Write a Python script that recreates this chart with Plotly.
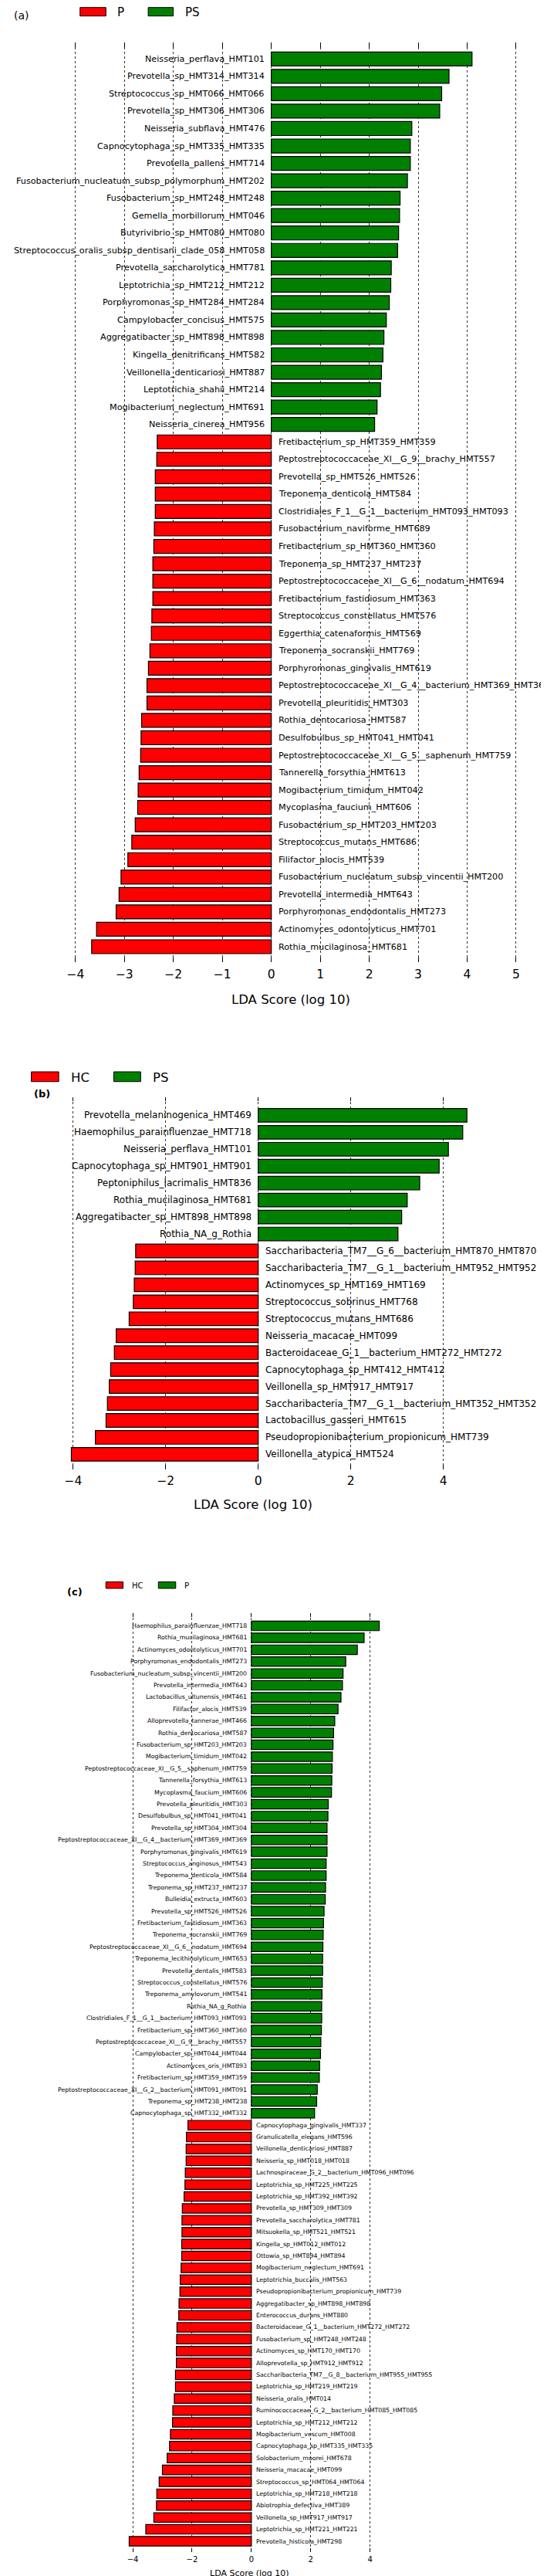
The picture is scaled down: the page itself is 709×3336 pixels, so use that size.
import plotly.graph_objects as go

FONT = "DejaVu Sans"
W, H = 709, 3336
RED = "#ff0000"
GREEN = "#008000"

# ---- panel (a): P vs PS ----
a_ps_names = [
    "Neisseria_perflava_HMT101", "Prevotella_sp_HMT314_HMT314", "Streptococcus_sp_HMT066_HMT066",
    "Prevotella_sp_HMT306_HMT306", "Neisseria_subflava_HMT476", "Capnocytophaga_sp_HMT335_HMT335",
    "Prevotella_pallens_HMT714", "Fusobacterium_nucleatum_subsp_polymorphum_HMT202",
    "Fusobacterium_sp_HMT248_HMT248", "Gemella_morbillorum_HMT046", "Butyrivibrio_sp_HMT080_HMT080",
    "Streptococcus_oralis_subsp_dentisani_clade_058_HMT058", "Prevotella_saccharolytica_HMT781",
    "Leptotrichia_sp_HMT212_HMT212", "Porphyromonas_sp_HMT284_HMT284", "Campylobacter_concisus_HMT575",
    "Aggregatibacter_sp_HMT898_HMT898", "Kingella_denitrificans_HMT582", "Veillonella_denticariosi_HMT887",
    "Leptotrichia_shahii_HMT214", "Mogibacterium_neglectum_HMT691", "Neisseria_cinerea_HMT956",
]
a_ps_lda = [4.10, 3.63, 3.48, 3.44, 2.87, 2.84, 2.84, 2.78, 2.63, 2.62, 2.60, 2.58, 2.45, 2.44,
            2.41, 2.35, 2.30, 2.28, 2.25, 2.23, 2.16, 2.11]
a_p_names = [
    "Fretibacterium_sp_HMT359_HMT359", "Peptostreptococcaceae_XI__G_9__brachy_HMT557",
    "Prevotella_sp_HMT526_HMT526", "Treponema_denticola_HMT584",
    "Clostridiales_F_1__G_1__bacterium_HMT093_HMT093", "Fusobacterium_naviforme_HMT689",
    "Fretibacterium_sp_HMT360_HMT360", "Treponema_sp_HMT237_HMT237",
    "Peptostreptococcaceae_XI__G_6__nodatum_HMT694", "Fretibacterium_fastidiosum_HMT363",
    "Streptococcus_constellatus_HMT576", "Eggerthia_catenaformis_HMT569", "Treponema_socranskii_HMT769",
    "Porphyromonas_gingivalis_HMT619", "Peptostreptococcaceae_XI__G_4__bacterium_HMT369_HMT369",
    "Prevotella_pleuritidis_HMT303", "Rothia_dentocariosa_HMT587", "Desulfobulbus_sp_HMT041_HMT041",
    "Peptostreptococcaceae_XI__G_5__saphenum_HMT759", "Tannerella_forsythia_HMT613",
    "Mogibacterium_timidum_HMT042", "Mycoplasma_faucium_HMT606", "Fusobacterium_sp_HMT203_HMT203",
    "Streptococcus_mutans_HMT686", "Filifactor_alocis_HMT539",
    "Fusobacterium_nucleatum_subsp_vincentii_HMT200", "Prevotella_intermedia_HMT643",
    "Porphyromonas_endodontalis_HMT273", "Actinomyces_odontolyticus_HMT701", "Rothia_mucilaginosa_HMT681",
]
a_p_lda = [-2.33, -2.34, -2.37, -2.37, -2.37, -2.39, -2.40, -2.42, -2.42, -2.42, -2.44, -2.45, -2.48,
           -2.51, -2.54, -2.54, -2.65, -2.66, -2.67, -2.70, -2.72, -2.73, -2.78, -2.85, -2.93, -3.07,
           -3.11, -3.17, -3.57, -3.67]
a_ticks = [-4, -3, -2, -1, 0, 1, 2, 3, 4, 5]

# ---- panel (b): HC vs PS ----
b_ps_names = [
    "Prevotella_melaninogenica_HMT469", "Haemophilus_parainfluenzae_HMT718", "Neisseria_perflava_HMT101",
    "Capnocytophaga_sp_HMT901_HMT901", "Peptoniphilus_lacrimalis_HMT836", "Rothia_mucilaginosa_HMT681",
    "Aggregatibacter_sp_HMT898_HMT898", "Rothia_NA_g_Rothia",
]
b_ps_lda = [4.51, 4.42, 4.11, 3.91, 3.49, 3.22, 3.10, 3.02]
b_hc_names = [
    "Saccharibacteria_TM7__G_6__bacterium_HMT870_HMT870",
    "Saccharibacteria_TM7__G_1__bacterium_HMT952_HMT952", "Actinomyces_sp_HMT169_HMT169",
    "Streptococcus_sobrinus_HMT768", "Streptococcus_mutans_HMT686", "Neisseria_macacae_HMT099",
    "Bacteroidaceae_G_1__bacterium_HMT272_HMT272", "Capnocytophaga_sp_HMT412_HMT412",
    "Veillonella_sp_HMT917_HMT917", "Saccharibacteria_TM7__G_1__bacterium_HMT352_HMT352",
    "Lactobacillus_gasseri_HMT615", "Pseudopropionibacterium_propionicum_HMT739",
    "Veillonella_atypica_HMT524",
]
b_hc_lda = [-2.65, -2.66, -2.68, -2.70, -2.79, -3.07, -3.11, -3.19, -3.22, -3.26, -3.29, -3.52, -4.04]
b_ticks = [-4, -2, 0, 2, 4]

# ---- panel (c): HC vs P ----
c_p_names = [
    "Haemophilus_parainfluenzae_HMT718", "Rothia_mucilaginosa_HMT681", "Actinomyces_odontolyticus_HMT701",
    "Porphyromonas_endodontalis_HMT273", "Fusobacterium_nucleatum_subsp_vincentii_HMT200",
    "Prevotella_intermedia_HMT643", "Lactobacillus_ultunensis_HMT461", "Filifactor_alocis_HMT539",
    "Alloprevotella_tannerae_HMT466", "Rothia_dentocariosa_HMT587", "Fusobacterium_sp_HMT203_HMT203",
    "Mogibacterium_timidum_HMT042", "Peptostreptococcaceae_XI__G_5__saphenum_HMT759",
    "Tannerella_forsythia_HMT613", "Mycoplasma_faucium_HMT606", "Prevotella_pleuritidis_HMT303",
    "Desulfobulbus_sp_HMT041_HMT041", "Prevotella_sp_HMT304_HMT304",
    "Peptostreptococcaceae_XI__G_4__bacterium_HMT369_HMT369", "Porphyromonas_gingivalis_HMT619",
    "Streptococcus_anginosus_HMT543", "Treponema_denticola_HMT584", "Treponema_sp_HMT237_HMT237",
    "Bulleidia_extructa_HMT603", "Prevotella_sp_HMT526_HMT526", "Fretibacterium_fastidiosum_HMT363",
    "Treponema_socranskii_HMT769", "Peptostreptococcaceae_XI__G_6__nodatum_HMT694",
    "Treponema_lecithinolyticum_HMT653", "Prevotella_dentalis_HMT583", "Streptococcus_constellatus_HMT576",
    "Treponema_amylovorum_HMT541", "Rothia_NA_g_Rothia", "Clostridiales_F_1__G_1__bacterium_HMT093_HMT093",
    "Fretibacterium_sp_HMT360_HMT360", "Peptostreptococcaceae_XI__G_9__brachy_HMT557",
    "Campylobacter_sp_HMT044_HMT044", "Actinomyces_oris_HMT893", "Fretibacterium_sp_HMT359_HMT359",
    "Peptostreptococcaceae_XI__G_2__bacterium_HMT091_HMT091", "Treponema_sp_HMT238_HMT238",
    "Capnocytophaga_sp_HMT332_HMT332",
]
c_p_lda = [4.31, 3.80, 3.57, 3.18, 3.09, 3.07, 3.02, 2.92, 2.81, 2.77, 2.75, 2.73, 2.72, 2.71, 2.70,
           2.59, 2.58, 2.55, 2.55, 2.55, 2.52, 2.52, 2.50, 2.49, 2.45, 2.43, 2.42, 2.41, 2.40, 2.40,
           2.39, 2.38, 2.37, 2.37, 2.36, 2.34, 2.33, 2.30, 2.29, 2.22, 2.20, 2.13]
c_hc_names = [
    "Capnocytophaga_gingivalis_HMT337", "Granulicatella_elegans_HMT596", "Veillonella_denticariosi_HMT887",
    "Neisseria_sp_HMT018_HMT018", "Lachnospiraceae_G_2__bacterium_HMT096_HMT096",
    "Leptotrichia_sp_HMT225_HMT225", "Leptotrichia_sp_HMT392_HMT392", "Prevotella_sp_HMT309_HMT309",
    "Prevotella_saccharolytica_HMT781", "Mitsuokella_sp_HMT521_HMT521", "Kingella_sp_HMT012_HMT012",
    "Ottowia_sp_HMT894_HMT894", "Mogibacterium_neglectum_HMT691", "Leptotrichia_buccalis_HMT563",
    "Pseudopropionibacterium_propionicum_HMT739", "Aggregatibacter_sp_HMT898_HMT898",
    "Enterococcus_durans_HMT880", "Bacteroidaceae_G_1__bacterium_HMT272_HMT272",
    "Fusobacterium_sp_HMT248_HMT248", "Actinomyces_sp_HMT170_HMT170", "Alloprevotella_sp_HMT912_HMT912",
    "Saccharibacteria_TM7__G_8__bacterium_HMT955_HMT955", "Leptotrichia_sp_HMT219_HMT219",
    "Neisseria_oralis_HMT014", "Ruminococcaceae_G_2__bacterium_HMT085_HMT085",
    "Leptotrichia_sp_HMT212_HMT212", "Mogibacterium_vescum_HMT008", "Capnocytophaga_sp_HMT335_HMT335",
    "Solobacterium_moorei_HMT678", "Neisseria_macacae_HMT099", "Streptococcus_sp_HMT064_HMT064",
    "Leptotrichia_sp_HMT218_HMT218", "Abiotrophia_defectiva_HMT389", "Veillonella_sp_HMT917_HMT917",
    "Leptotrichia_sp_HMT221_HMT221", "Prevotella_histicola_HMT298",
]
c_hc_lda = [-2.14, -2.19, -2.20, -2.20, -2.23, -2.24, -2.27, -2.33, -2.34, -2.34, -2.35, -2.35, -2.37,
            -2.40, -2.41, -2.44, -2.45, -2.51, -2.52, -2.53, -2.53, -2.56, -2.56, -2.60, -2.65, -2.66,
            -2.73, -2.76, -2.84, -3.00, -3.11, -3.19, -3.20, -3.29, -3.56, -4.12]
c_ticks = [-4, -2, 0, 2, 4]


def fx(px):
    return px / W


def fy(px):
    return 1 - px / H


panels = [
    dict(ax="", letter="(a)", legend=("P", "PS"),
         pos=(a_ps_names, a_ps_lda), neg=(a_p_names, a_p_lda), ticks=a_ticks,
         xdom=(79.8, 665.5), xrange=[-4.05, 5.05], ytop=47, ybot=1238, row0=68.3, rowN=1218,
         lab=11.2, gap=7, tick=15.5, ticklen=6.5, tstand=4, title=16.5, title_xy=(366, 1287),
         letter_xy=(12, 12, 14, False),
         leg=dict(y=(1.7, 12.7), r=(89, 123), rt=135.6, g=(178.6, 211.6), gt=224.7, size=15)),
    dict(ax="2", letter="(b)", legend=("HC", "PS"),
         pos=(b_ps_names, b_ps_lda), neg=(b_hc_names, b_hc_lda), ticks=b_ticks,
         xdom=(73.9, 603.1), xrange=[-4.1, 4.6], ytop=1412.7, ybot=1894.6, row0=1436.4, rowN=1875.4,
         lab=12, gap=7, tick=15.5, ticklen=5.7, tstand=4, title=16.5, title_xy=(316, 1940),
         letter_xy=(39, 1408, 13, True),
         leg=dict(y=(1380, 1392.7), r=(24.9, 61), rt=74.6, g=(133.4, 168.7), gt=183, size=16.5)),
    dict(ax="3", letter="(c)", legend=("HC", "P"),
         pos=(c_p_names, c_p_lda), neg=(c_hc_names, c_hc_lda), ticks=c_ticks,
         xdom=(150.5, 485.9), xrange=[-4.2, 4.4], ytop=2081, ybot=3297, row0=2097.6, rowN=3283,
         lab=7.8, gap=4, tick=10, ticklen=5, tstand=2, title=11, title_xy=(311.5, 3324),
         letter_xy=(82, 2053.5, 13, True),
         leg=dict(y=(2040.6, 2049), r=(123, 145.6), rt=155, g=(192, 214.8), gt=224, size=10)),
]

fig = go.Figure()
layout = dict(width=W, height=H, margin=dict(l=0, r=0, t=0, b=0),
              paper_bgcolor="white", plot_bgcolor="white", showlegend=False,
              font=dict(family=FONT, color="black"), bargap=0.2)
annotations = []
shapes = []

for p in panels:
    xname, yname = "x" + p["ax"], "y" + p["ax"]
    pos_names, pos_vals = p["pos"]
    neg_names, neg_vals = p["neg"]
    n = len(pos_names) + len(neg_names)
    pos_y = list(range(len(pos_names)))
    neg_y = list(range(len(pos_names), n))

    for vals, ys, col in ((pos_vals, pos_y, GREEN), (neg_vals, neg_y, RED)):
        fig.add_trace(go.Bar(x=vals, y=ys, orientation="h", width=0.8, xaxis=xname, yaxis=yname,
                             marker=dict(color=col, line=dict(color="black", width=1.2)),
                             hoverinfo="skip"))

    for names, ys, side in ((pos_names, pos_y, -1), (neg_names, neg_y, 1)):
        for name, yy in zip(names, ys):
            annotations.append(dict(x=0, y=yy, xref=xname, yref=yname, text=name, showarrow=False,
                                    xanchor="right" if side < 0 else "left", yanchor="middle",
                                    xshift=side * p["gap"], font=dict(size=p["lab"], family=FONT)))

    step = (p["rowN"] - p["row0"]) / (n - 1)
    top_off = (p["row0"] - p["ytop"]) / step
    bot_off = (p["ybot"] - p["rowN"]) / step

    layout["xaxis" + p["ax"]] = dict(
        domain=[fx(p["xdom"][0]), fx(p["xdom"][1])], range=p["xrange"], anchor=yname,
        tickvals=p["ticks"], ticktext=[("\u2212" + str(-t)) if t < 0 else str(t) for t in p["ticks"]],
        ticks="inside", ticklen=p["ticklen"], tickwidth=1, tickcolor="black", mirror="ticks",
        showline=False, zeroline=False, showgrid=True, gridcolor="#333333", griddash="dot",
        gridwidth=1, tickfont=dict(size=p["tick"], family=FONT), ticklabelstandoff=p["tstand"])
    layout["yaxis" + p["ax"]] = dict(
        domain=[fy(p["ybot"]), fy(p["ytop"])], range=[n - 1 + bot_off, -top_off], anchor=xname,
        visible=False, fixedrange=True)

    tx, ty = p["title_xy"]
    annotations.append(dict(x=fx(tx), y=fy(ty), xref="paper", yref="paper", text="LDA Score (log 10)",
                            showarrow=False, xanchor="center", yanchor="middle",
                            font=dict(size=p["title"], family=FONT)))
    lx, ly, lsize, bold = p["letter_xy"]
    annotations.append(dict(x=fx(lx), y=fy(ly), xref="paper", yref="paper",
                            text="<b>%s</b>" % p["letter"] if bold else p["letter"],
                            showarrow=False, xanchor="center", yanchor="middle",
                            font=dict(size=lsize, family=FONT)))

    lg = p["leg"]
    for (x0, x1), col, tx0, txt in ((lg["r"], RED, lg["rt"], p["legend"][0]),
                                    (lg["g"], GREEN, lg["gt"], p["legend"][1])):
        shapes.append(dict(type="rect", xref="paper", yref="paper", x0=fx(x0), x1=fx(x1),
                           y0=fy(lg["y"][1]), y1=fy(lg["y"][0]), fillcolor=col,
                           line=dict(color="black", width=1)))
        annotations.append(dict(x=fx(tx0), y=fy((lg["y"][0] + lg["y"][1]) / 2 + 1), xref="paper",
                                yref="paper", text=txt, showarrow=False, xanchor="left",
                                yanchor="middle", font=dict(size=lg["size"], family=FONT)))

layout["annotations"] = annotations
layout["shapes"] = shapes
fig.update_layout(**layout)

fig.write_html("out.html")
